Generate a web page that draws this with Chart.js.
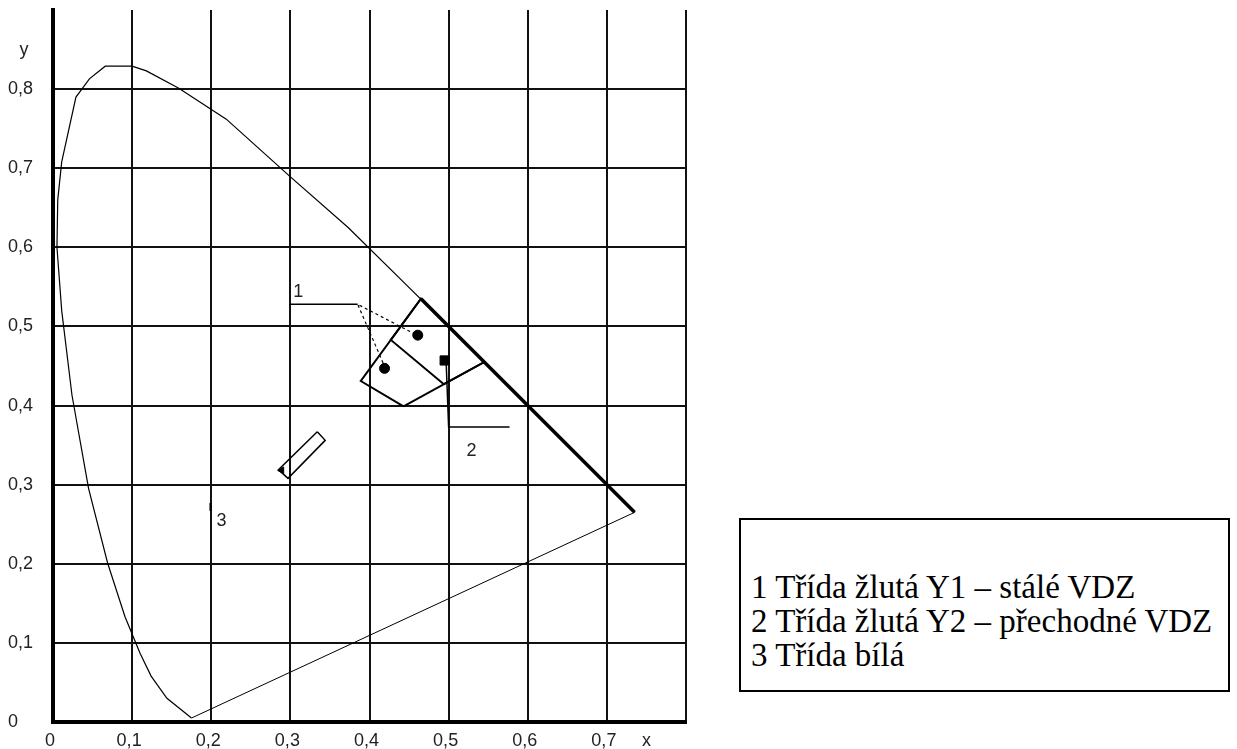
<!DOCTYPE html>
<html>
<head>
<meta charset="utf-8">
<script src="https://cdn.jsdelivr.net/npm/chart.js@4/dist/chart.umd.min.js"></script>
<style>
    html, body { margin: 0; padding: 0; background: #fff; }
    body { width: 1237px; height: 749px; position: relative; overflow: hidden; }
    #wrap { position: absolute; left: 0; top: 0; width: 700px; height: 749px; }
    #legend {
        position: absolute; left: 739px; top: 518px; width: 491px; height: 174px;
        box-sizing: border-box; border: 2px solid #000;
        font-family: "Liberation Serif", "Times New Roman", serif;
        font-size: 33px; line-height: 34px; color: #000;
        padding: 50px 0 0 10px; white-space: nowrap;
    }
</style>
</head>
<body>
<div id="wrap"><canvas id="chart-cie"></canvas></div>
<div id="legend">
    <div>1 Třída žlutá Y1 – stálé VDZ</div>
    <div>2 Třída žlutá Y2 – přechodné VDZ</div>
    <div>3 Třída bílá</div>
</div>
<script>
// Data
var tickX = [0, 0.1, 0.2, 0.3, 0.4, 0.5, 0.6, 0.7, 0.8];
var tickY = [0, 0.1, 0.2, 0.3, 0.4, 0.5, 0.6, 0.7, 0.8];
var nameX = "x", nameXAt = 0.75;
var nameY = "y", nameYAt = 0.85;

// spectral locus (horseshoe)
var locusX = [0.175, 0.144, 0.124, 0.110, 0.091, 0.069, 0.045, 0.024, 0.011, 0.005, 0.006, 0.011, 0.029, 0.046, 0.066, 0.100, 0.118, 0.159, 0.219, 0.299, 0.373, 0.444, 0.513, 0.575, 0.627, 0.692, 0.735];
var locusY = [0.005, 0.030, 0.058, 0.087, 0.133, 0.201, 0.295, 0.413, 0.520, 0.600, 0.660, 0.708, 0.790, 0.813, 0.829, 0.829, 0.823, 0.801, 0.762, 0.690, 0.625, 0.555, 0.487, 0.424, 0.373, 0.308, 0.265];
// purple line
var purpleX = [0.735, 0.175];
var purpleY = [0.265, 0.005];
// thick part of the locus
var edgeX = [0.465, 0.735];
var edgeY = [0.535, 0.265];

// Y1 / Y2 / white areas
var y1X = [0.443, 0.545, 0.465, 0.389, 0.443];
var y1Y = [0.399, 0.455, 0.535, 0.431, 0.399];
var y2X = [0.494, 0.545, 0.465, 0.427, 0.494];
var y2Y = [0.427, 0.455, 0.535, 0.483, 0.427];
var whiteX = [0.334, 0.344, 0.297, 0.285, 0.334];
var whiteY = [0.367, 0.356, 0.308, 0.319, 0.367];

// measured points
var dotX = [0.461, 0.419];
var dotY = [0.489, 0.447];
var squareX = [0.495];
var squareY = [0.457];
var markX = [0.289];
var markY = [0.318];

// leaders + labels
var lead1X = [0.299, 0.385];
var lead1Y = [0.528, 0.528];
var lead1dashX = [0.458, 0.385, 0.418];
var lead1dashY = [0.490, 0.528, 0.452];
var lead2X = [0.497, 0.500, 0.577];
var lead2Y = [0.452, 0.373, 0.373];
var lead3X = [0.199, 0.199];
var lead3Y = [0.267, 0.277];
var labelText = ["1", "2", "3"];
var labelX = [0.310, 0.529, 0.213];
var labelY = [0.543, 0.342, 0.254];

var tickFont = { family: "'Liberation Sans', Arial, sans-serif", size: 18 };

function pts(xs, ys) {
    return xs.map(function (x, i) { return { x: x, y: ys[i] }; });
}
function line(xs, ys, width, dash) {
    return {
        data: pts(xs, ys),
        showLine: true,
        borderColor: "#000",
        borderWidth: width,
        borderDash: dash || [],
        pointRadius: 0,
        fill: false
    };
}
function fmt(v) {
    return v === 0 ? "0" : v.toFixed(1).replace(".", ",");
}
function noPad(scale) {
    scale.paddingTop = 0;
    scale.paddingBottom = 0;
    scale.paddingLeft = 0;
    scale.paddingRight = 0;
}

// draws 1, 2, 3 and the axis names
var labelPlugin = {
    id: "labels",
    afterDatasetsDraw: function (chart) {
        var c = chart.ctx, sx = chart.scales.x, sy = chart.scales.y;
        c.save();
        c.font = "18px 'Liberation Sans', Arial, sans-serif";
        c.fillStyle = "#222";
        c.textAlign = "center";
        c.textBaseline = "middle";
        labelText.forEach(function (t, i) {
            c.fillText(t, sx.getPixelForValue(labelX[i]), sy.getPixelForValue(labelY[i]));
        });
        c.fillText(nameY, chart.chartArea.left - 29, sy.getPixelForValue(nameYAt));
        c.fillText(nameX, sx.getPixelForValue(nameXAt), chart.chartArea.bottom + 19);
        c.restore();
    }
};

var ctx = document.getElementById("chart-cie").getContext("2d");
var myChart = new Chart(ctx, {
    type: "scatter",
    data: {
        datasets: [
            line(locusX, locusY, 1.2),
            line(purpleX, purpleY, 1),
            line(edgeX, edgeY, 3.5),
            line(y1X, y1Y, 2),
            line(y2X, y2Y, 2),
            line(whiteX, whiteY, 1.5),
            line(lead1X, lead1Y, 1.5),
            line(lead1dashX, lead1dashY, 1.2, [3, 3]),
            line(lead2X, lead2Y, 1.5),
            line(lead3X, lead3Y, 2),
            {
                data: pts(dotX, dotY),
                pointStyle: "circle",
                pointRadius: 5,
                backgroundColor: "#000",
                borderColor: "#000"
            },
            {
                data: pts(squareX, squareY),
                pointStyle: "rect",
                pointRadius: 6.5,
                backgroundColor: "#000",
                borderColor: "#000"
            },
            {
                data: pts(markX, markY),
                pointStyle: "triangle",
                rotation: -90,
                pointRadius: 4,
                backgroundColor: "#000",
                borderColor: "#000"
            }
        ]
    },
    options: {
        animation: false,
        responsive: true,
        maintainAspectRatio: false,
        events: [],
        layout: {
            padding: { top: 10, right: 14, left: 8, bottom: 0 }
        },
        plugins: {
            legend: { display: false },
            tooltip: { enabled: false }
        },
        scales: {
            x: {
                type: "linear",
                min: 0,
                max: 0.8,
                afterBuildTicks: function (scale) {
                    scale.ticks = tickX.map(function (v) { return { value: v }; });
                },
                afterFit: function (scale) { scale.height = 27; noPad(scale); },
                ticks: {
                    autoSkip: false,
                    maxRotation: 0,
                    padding: 8,
                    labelOffset: -3,
                    color: "#222",
                    font: tickFont,
                    callback: function (value, index, ticks) {
                        var v = ticks[index].value;
                        if (v === tickX[tickX.length - 1]) return "";
                        return fmt(v);
                    }
                },
                grid: {
                    drawTicks: false,
                    lineWidth: 2,
                    color: "#111"
                },
                border: { display: true, color: "#000", width: 4 }
            },
            y: {
                type: "linear",
                min: 0,
                max: 0.9,
                afterBuildTicks: function (scale) {
                    scale.ticks = tickY.map(function (v) { return { value: v }; });
                },
                afterFit: function (scale) { scale.width = 45; noPad(scale); },
                ticks: {
                    autoSkip: false,
                    padding: 14,
                    crossAlign: "far",
                    color: "#222",
                    font: tickFont,
                    callback: function (value, index, ticks) {
                        return fmt(ticks[index].value);
                    }
                },
                grid: {
                    drawTicks: false,
                    lineWidth: 2,
                    color: "#111"
                },
                border: { display: true, color: "#000", width: 4 }
            }
        }
    },
    plugins: [labelPlugin]
});
</script>
</body>
</html>
